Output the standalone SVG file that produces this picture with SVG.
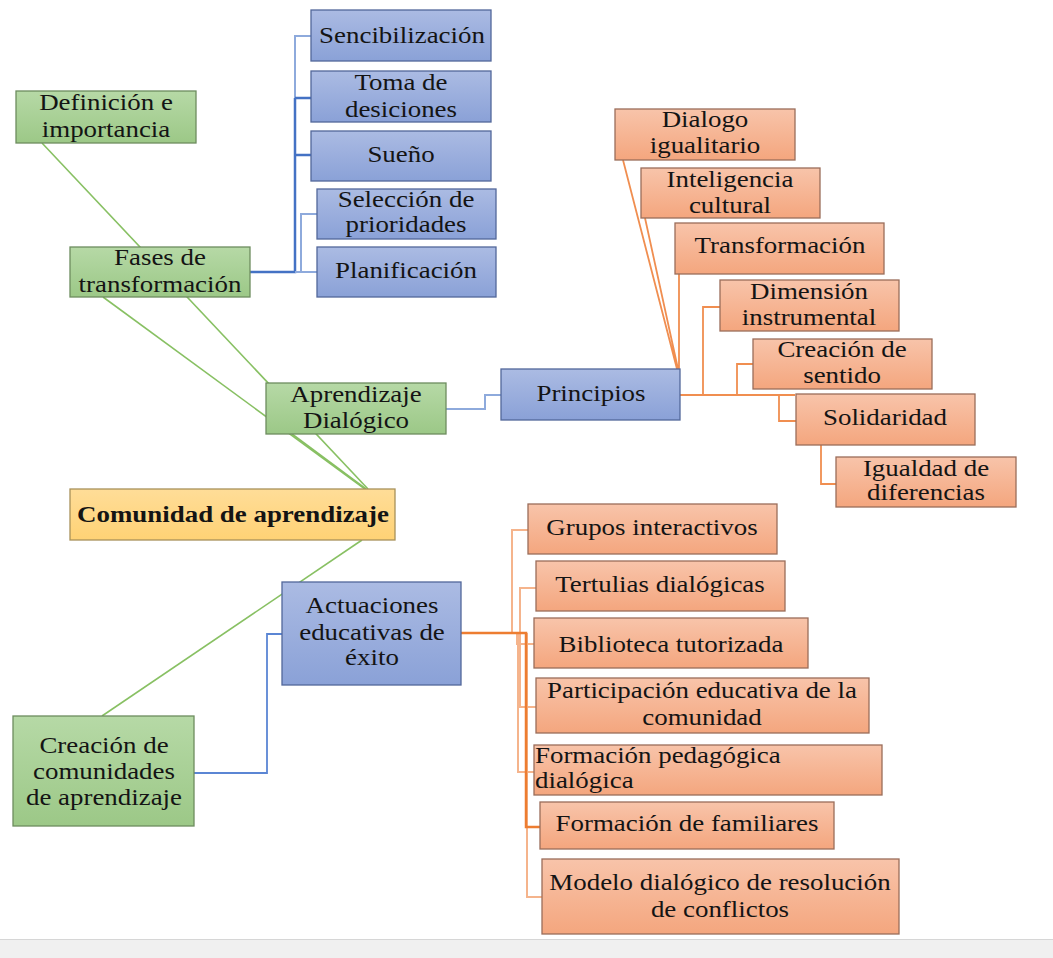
<svg xmlns="http://www.w3.org/2000/svg" width="1053" height="958" viewBox="0 0 1053 958">
<defs>
<linearGradient id="gB" x1="0" y1="0" x2="0" y2="1"><stop offset="0" stop-color="#abbbe3"/><stop offset="1" stop-color="#8aa1d7"/></linearGradient>
<linearGradient id="gG" x1="0" y1="0" x2="0" y2="1"><stop offset="0" stop-color="#b6d9a6"/><stop offset="1" stop-color="#9cc887"/></linearGradient>
<linearGradient id="gO" x1="0" y1="0" x2="0" y2="1"><stop offset="0" stop-color="#f8c4aa"/><stop offset="1" stop-color="#f4a67e"/></linearGradient>
<linearGradient id="gY" x1="0" y1="0" x2="0" y2="1"><stop offset="0" stop-color="#ffdd98"/><stop offset="1" stop-color="#ffd275"/></linearGradient>
</defs>
<style>
.b{fill:url(#gB);stroke:#52679a;stroke-width:1.3}
.g{fill:url(#gG);stroke:#6d8d5f;stroke-width:1.3}
.o{fill:url(#gO);stroke:#9a6d5a;stroke-width:1.3}
.y{fill:url(#gY);stroke:#a8915a;stroke-width:1.3}
.t{font-family:"Liberation Serif","Times New Roman",serif;font-size:23px;fill:#141414;text-anchor:middle}
.l{text-anchor:start}
.bold{font-weight:bold}
.cg{stroke:#88c063;stroke-width:1.6;fill:none}
.cb{stroke:#4472c4;stroke-width:2.5;fill:none}
.cbl{stroke:#8eaadc;stroke-width:2;fill:none}
.cbm{stroke:#5b86d4;stroke-width:1.8;fill:none}
.co{stroke:#ed7d31;stroke-width:2.5;fill:none}
.col{stroke:#f5b48c;stroke-width:2;fill:none}
.com{stroke:#f08e50;stroke-width:1.8;fill:none}
</style>
<rect x="0" y="939" width="1053" height="19" fill="#f0f0f0"/>
<line x1="0" y1="939.5" x2="1053" y2="939.5" stroke="#d6d6d6" stroke-width="1"/>
<g id="connectors">
<path class="cg" d="M42,143 L368,489"/>
<path class="cg" d="M103,297 L365,489"/>
<path class="cg" d="M292,434 L366,489"/>
<path class="cg" d="M362,540 L102,716"/>
<path class="cbl" d="M295,98 V36 H311"/>
<path class="cb" d="M250,272 H295 V98"/>
<path class="cb" d="M295,98 H311 M295,155 H311"/>
<path class="cbl" d="M301,272 V214 H317 M295,272 H317"/>
<path class="cbl" d="M446,409 H485 V395 H501"/>
<path class="cbm" d="M194,773 H267 V634 H282"/>
<path class="col" d="M512,633 V530 H528 M520,633 V588 H536 M520,588 V707 H536 M517,633 V644 H534 M518,633 V772 H534 M527,633 V897 H542"/>
<path class="co" d="M461,633 H526 V827 H540"/>
<path class="com" d="M680,395 H795 M623,160 L677,369 M645,218 L678,369 M679,274 V395 M703,395 V307 H720 M737,395 V364 H753 M779,395 V421 H796 M821,445 V484 H836"/>
</g>
<g id="n-sencibilizacion"><rect class="b" x="311" y="10" width="180" height="51"/><text class="t" transform="translate(402 43) scale(1.17 1)">Sencibilización</text></g>
<g id="n-toma"><rect class="b" x="311" y="71" width="180" height="51"/><text class="t" transform="translate(401 90) scale(1.17 1)">Toma de</text><text class="t" transform="translate(401 117) scale(1.17 1)">desiciones</text></g>
<g id="n-sueno"><rect class="b" x="311" y="131" width="180" height="50"/><text class="t" transform="translate(401 162) scale(1.17 1)">Sueño</text></g>
<g id="n-seleccion"><rect class="b" x="317" y="189" width="179" height="50"/><text class="t" transform="translate(406 207) scale(1.17 1)">Selección de</text><text class="t" transform="translate(406 232) scale(1.17 1)">prioridades</text></g>
<g id="n-planificacion"><rect class="b" x="317" y="247" width="179" height="50"/><text class="t" transform="translate(406 278) scale(1.17 1)">Planificación</text></g>
<g id="n-principios"><rect class="b" x="501" y="369" width="179" height="51"/><text class="t" transform="translate(591 401) scale(1.17 1)">Principios</text></g>
<g id="n-actuaciones"><rect class="b" x="282" y="582" width="179" height="103"/><text class="t" transform="translate(372 613) scale(1.17 1)">Actuaciones</text><text class="t" transform="translate(372 640) scale(1.17 1)">educativas de</text><text class="t" transform="translate(372 665) scale(1.17 1)">éxito</text></g>
<g id="n-definicion"><rect class="g" x="16" y="91" width="180" height="52"/><text class="t" transform="translate(106 110) scale(1.17 1)">Definición e</text><text class="t" transform="translate(106 137) scale(1.17 1)">importancia</text></g>
<g id="n-fases"><rect class="g" x="70" y="247" width="180" height="50"/><text class="t" transform="translate(160 265) scale(1.17 1)">Fases de</text><text class="t" transform="translate(160 292) scale(1.17 1)">transformación</text></g>
<g id="n-aprendizaje"><rect class="g" x="266" y="383" width="180" height="51"/><text class="t" transform="translate(356 402) scale(1.17 1)">Aprendizaje</text><text class="t" transform="translate(356 428) scale(1.17 1)">Dialógico</text></g>
<g id="n-creacion-comunidades"><rect class="g" x="13" y="716" width="181" height="110"/><text class="t" transform="translate(104 753) scale(1.17 1)">Creación de</text><text class="t" transform="translate(104 779) scale(1.17 1)">comunidades</text><text class="t" transform="translate(104 805) scale(1.17 1)">de aprendizaje</text></g>
<g id="n-comunidad"><rect class="y" x="70" y="489" width="325" height="51"/><text class="t bold" transform="translate(233 522) scale(1.17 1)">Comunidad de aprendizaje</text></g>
<g id="n-dialogo"><rect class="o" x="615" y="109" width="180" height="51"/><text class="t" transform="translate(705 127) scale(1.17 1)">Dialogo</text><text class="t" transform="translate(705 153) scale(1.17 1)">igualitario</text></g>
<g id="n-inteligencia"><rect class="o" x="641" y="168" width="179" height="50"/><text class="t" transform="translate(730 187) scale(1.17 1)">Inteligencia</text><text class="t" transform="translate(730 213) scale(1.17 1)">cultural</text></g>
<g id="n-transformacion"><rect class="o" x="675" y="223" width="209" height="51"/><text class="t" transform="translate(780 253) scale(1.17 1)">Transformación</text></g>
<g id="n-dimension"><rect class="o" x="720" y="280" width="179" height="51"/><text class="t" transform="translate(809 299) scale(1.17 1)">Dimensión</text><text class="t" transform="translate(809 325) scale(1.17 1)">instrumental</text></g>
<g id="n-creacion-sentido"><rect class="o" x="753" y="339" width="179" height="50"/><text class="t" transform="translate(842 357) scale(1.17 1)">Creación de</text><text class="t" transform="translate(842 383) scale(1.17 1)">sentido</text></g>
<g id="n-solidaridad"><rect class="o" x="796" y="394" width="179" height="51"/><text class="t" transform="translate(885 425) scale(1.17 1)">Solidaridad</text></g>
<g id="n-igualdad"><rect class="o" x="836" y="457" width="180" height="50"/><text class="t" transform="translate(926 476) scale(1.17 1)">Igualdad de</text><text class="t" transform="translate(926 500) scale(1.17 1)">diferencias</text></g>
<g id="n-grupos"><rect class="o" x="528" y="504" width="249" height="50"/><text class="t" transform="translate(652 535) scale(1.17 1)">Grupos interactivos</text></g>
<g id="n-tertulias"><rect class="o" x="536" y="561" width="249" height="50"/><text class="t" transform="translate(660 592) scale(1.17 1)">Tertulias dialógicas</text></g>
<g id="n-biblioteca"><rect class="o" x="534" y="618" width="274" height="50"/><text class="t" transform="translate(671 652) scale(1.17 1)">Biblioteca tutorizada</text></g>
<g id="n-participacion"><rect class="o" x="536" y="678" width="333" height="55"/><text class="t" transform="translate(702 698) scale(1.17 1)">Participación educativa de la</text><text class="t" transform="translate(702 725) scale(1.17 1)">comunidad</text></g>
<g id="n-formacion-pedagogica"><rect class="o" x="534" y="745" width="348" height="50"/><text class="t l" transform="translate(535 763) scale(1.17 1)">Formación pedagógica</text><text class="t l" transform="translate(535 788) scale(1.17 1)">dialógica</text></g>
<g id="n-formacion-familiares"><rect class="o" x="540" y="802" width="294" height="47"/><text class="t" transform="translate(687 831) scale(1.17 1)">Formación de familiares</text></g>
<g id="n-modelo"><rect class="o" x="542" y="859" width="357" height="75"/><text class="t" transform="translate(720 890) scale(1.17 1)">Modelo dialógico de resolución</text><text class="t" transform="translate(720 917) scale(1.17 1)">de conflictos</text></g>
</svg>
